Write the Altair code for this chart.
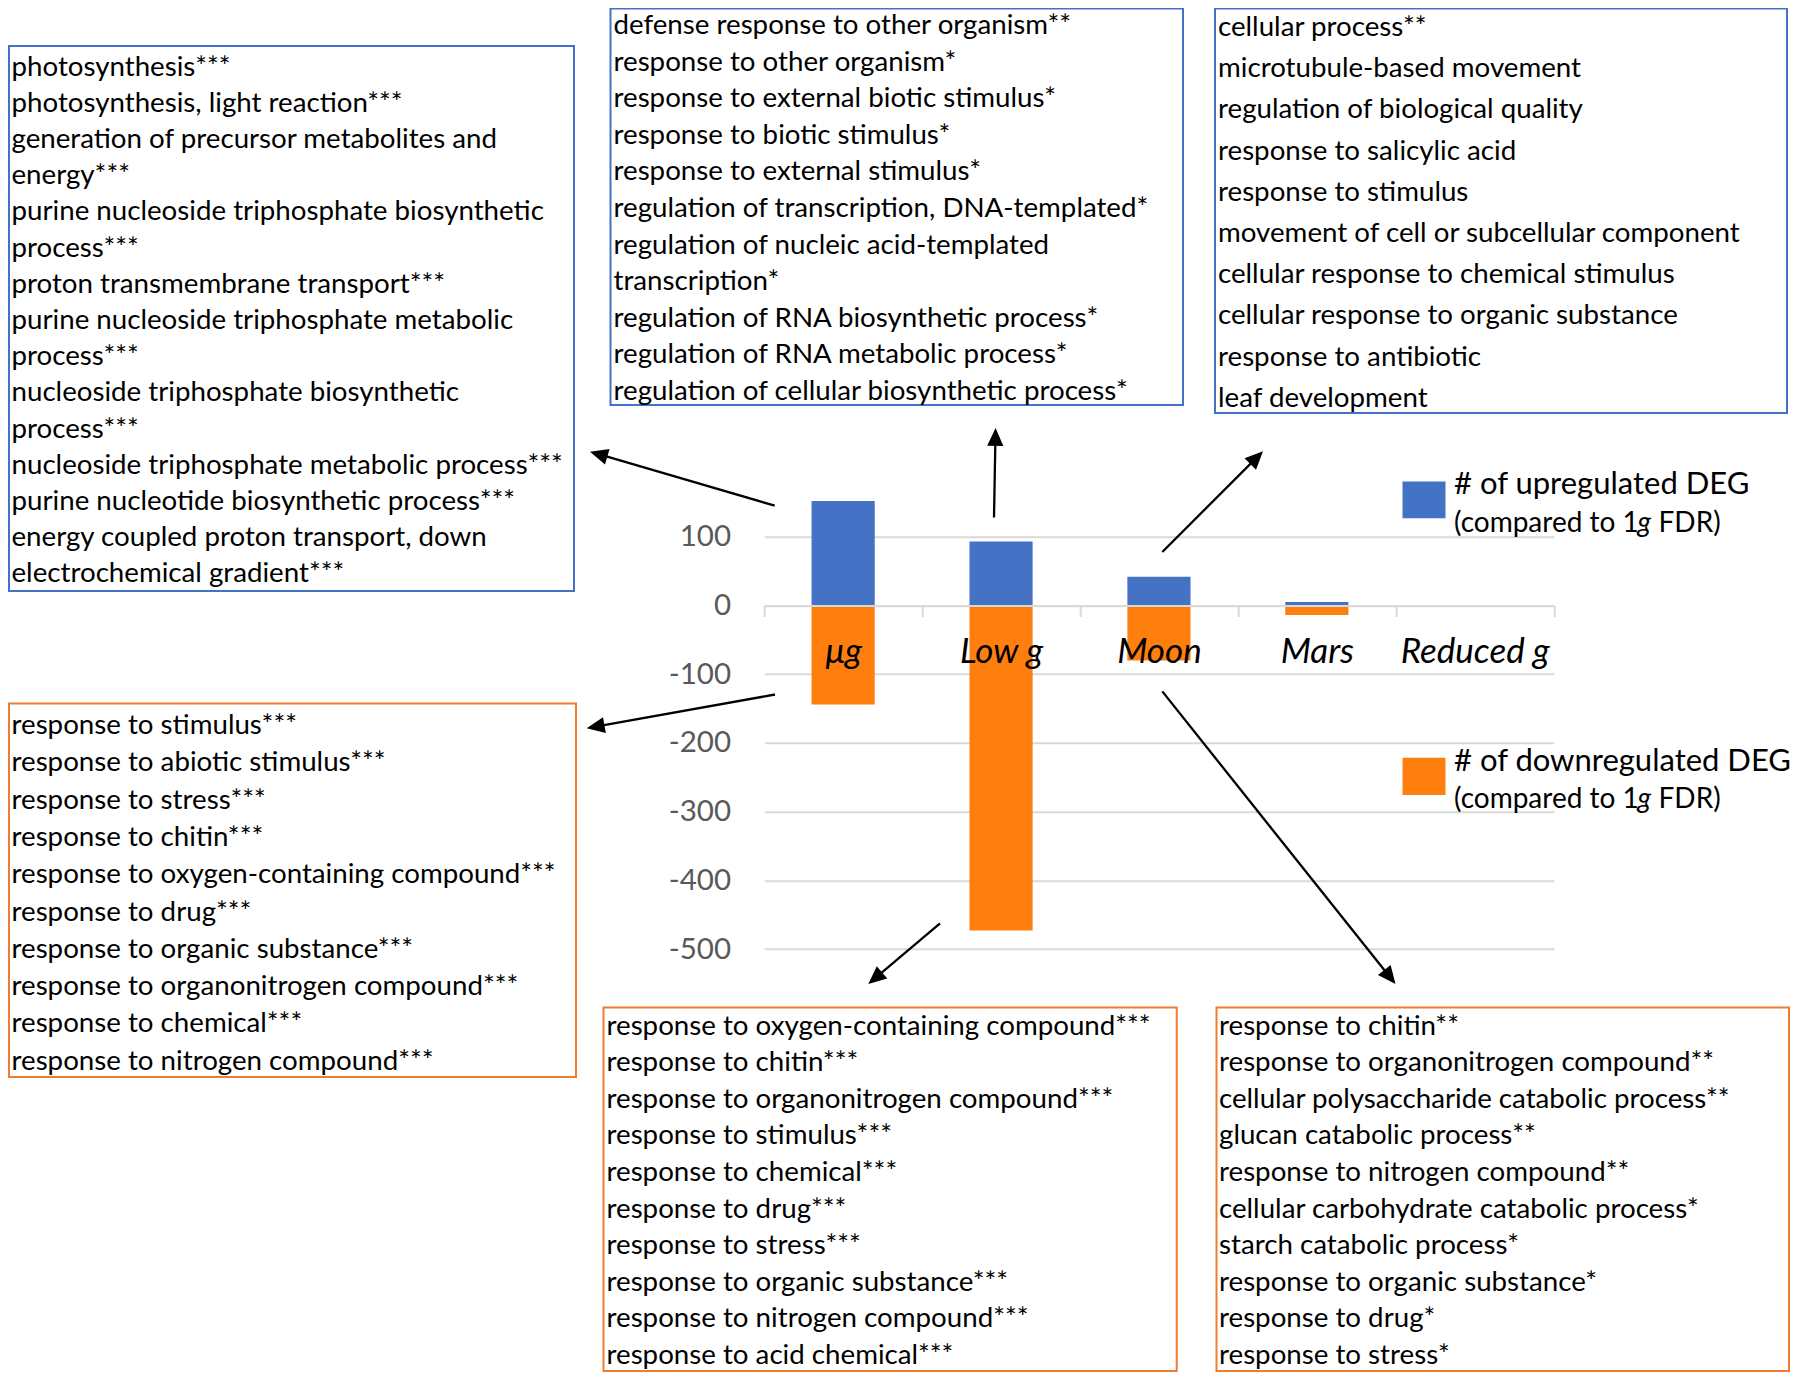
import math
import altair as alt
import pandas as pd

# ---------------- data ----------------
categories = ["μg", "Low g", "Moon", "Mars", "Reduced g"]
up_counts = [152, 93, 42, 5, 0]
down_counts = [-144, -473, -80, -14, 0]
y_ticks = [100, 0, -100, -200, -300, -400, -500]

up_label = "# of upregulated DEG"
down_label = "# of downregulated DEG"
sub_label_parts = ["(compared to 1", "g", "FDR)"]

terms_mg_up = [
    "photosynthesis***",
    "photosynthesis, light reaction***",
    "generation of precursor metabolites and",
    "energy***",
    "purine nucleoside triphosphate biosynthetic",
    "process***",
    "proton transmembrane transport***",
    "purine nucleoside triphosphate metabolic",
    "process***",
    "nucleoside triphosphate biosynthetic",
    "process***",
    "nucleoside triphosphate metabolic process***",
    "purine nucleotide biosynthetic process***",
    "energy coupled proton transport, down",
    "electrochemical gradient***",
]
terms_lowg_up = [
    "defense response to other organism**",
    "response to other organism*",
    "response to external biotic stimulus*",
    "response to biotic stimulus*",
    "response to external stimulus*",
    "regulation of transcription, DNA-templated*",
    "regulation of nucleic acid-templated",
    "transcription*",
    "regulation of RNA biosynthetic process*",
    "regulation of RNA metabolic process*",
    "regulation of cellular biosynthetic process*",
]
terms_moon_up = [
    "cellular process**",
    "microtubule-based movement",
    "regulation of biological quality",
    "response to salicylic acid",
    "response to stimulus",
    "movement of cell or subcellular component",
    "cellular response to chemical stimulus",
    "cellular response to organic substance",
    "response to antibiotic",
    "leaf development",
]
terms_mg_down = [
    "response to stimulus***",
    "response to abiotic stimulus***",
    "response to stress***",
    "response to chitin***",
    "response to oxygen-containing compound***",
    "response to drug***",
    "response to organic substance***",
    "response to organonitrogen compound***",
    "response to chemical***",
    "response to nitrogen compound***",
]
terms_lowg_down = [
    "response to oxygen-containing compound***",
    "response to chitin***",
    "response to organonitrogen compound***",
    "response to stimulus***",
    "response to chemical***",
    "response to drug***",
    "response to stress***",
    "response to organic substance***",
    "response to nitrogen compound***",
    "response to acid chemical***",
]
terms_moon_down = [
    "response to chitin**",
    "response to organonitrogen compound**",
    "cellular polysaccharide catabolic process**",
    "glucan catabolic process**",
    "response to nitrogen compound**",
    "cellular carbohydrate catabolic process*",
    "starch catabolic process*",
    "response to organic substance*",
    "response to drug*",
    "response to stress*",
]

# ---------------- layout (page pixel units) ----------------
PAGE_W, PAGE_H = 1802, 1381
CANVAS_W, CANVAS_H = 1786, 1365
PLOT_L, PLOT_T = 764.2, 536.8
PLOT_W, PLOT_H = 789.5, 412.2
ZERO_Y = 605.5

BLUE = "#4472C4"
ORANGE_BAR = "#FF7F0E"
ORANGE_BOX = "#ED7D31"
GRID = "#D9D9D9"
FONT = "Lato"
TERM_SIZE = 27.7
TEXT_DY = 2

# box: (x0, x1, y0, y1, colour, text_x, first_line_y, line_step, lines)
boxes = [
    (9, 574, 46, 591, BLUE, 11.5, 65.5, 36.2, terms_mg_up),
    (610.5, 1183, 8.5, 405, BLUE, 613.5, 24.0, 36.6, terms_lowg_up),
    (1215, 1787, 8.5, 413, BLUE, 1218, 26.0, 41.2, terms_moon_up),
    (9, 576, 703.5, 1077, ORANGE_BOX, 11.5, 724.0, 37.3, terms_mg_down),
    (603.5, 1176.7, 1007.5, 1371, ORANGE_BOX, 606.5, 1024.5, 36.6, terms_lowg_down),
    (1216.5, 1789, 1007.5, 1371, ORANGE_BOX, 1219, 1024.5, 36.6, terms_moon_down),
]

# arrows: (start_x, start_y, tip_x, tip_y)
arrows = [
    (774.7, 505.7, 590.0, 451.7),
    (775.0, 694.5, 586.7, 728.3),
    (994.0, 517.5, 995.6, 427.9),
    (940.0, 923.3, 868.3, 984.0),
    (1162.3, 552.0, 1263.0, 451.2),
    (1162.3, 691.4, 1395.5, 984.0),
]
HEAD_LEN = 18.0

legend_squares = [(1402.5, 1445.5, 481.5, 518.3, BLUE), (1402.5, 1445.5, 757.7, 795.0, ORANGE_BAR)]
legend_main = [(1454, 483.3, up_label), (1454, 760.0, down_label)]
legend_sub_y = [521.7, 798.3]
legend_sub_x = [1454, 1637.5, 1658.5]

# ---------------- tables ----------------
bar_rows = []
for c, u, d in zip(categories, up_counts, down_counts):
    bar_rows.append({"cat": c, "hi": u, "lo": 0, "series": "up"})
    bar_rows.append({"cat": c, "hi": 0, "lo": d, "series": "down"})
bar_df = pd.DataFrame(bar_rows)

box_df = pd.DataFrame([{"x0": b[0], "x1": b[1], "y0": b[2], "y1": b[3], "col": b[4]} for b in boxes])
line_rows = []
for b in boxes:
    for i, t in enumerate(b[8]):
        line_rows.append({"x": b[5], "y": b[6] + i * b[7], "t": t})
line_df = pd.DataFrame(line_rows)

arrow_rows, head_rows = [], []
for sx, sy, tx, ty in arrows:
    dx, dy = tx - sx, ty - sy
    n = math.hypot(dx, dy)
    ux, uy = dx / n, dy / n
    cx, cy = tx - ux * HEAD_LEN / 2, ty - uy * HEAD_LEN / 2
    arrow_rows.append({"x": sx, "y": sy, "x2": cx, "y2": cy})
    ang = math.degrees(math.atan2(dx, -dy)) % 360
    head_rows.append({"x": cx, "y": cy, "ang": ang})
arrow_df = pd.DataFrame(arrow_rows)
head_df = pd.DataFrame(head_rows)

sq_df = pd.DataFrame([{"x0": s[0], "x1": s[1], "y0": s[2], "y1": s[3], "col": s[4]} for s in legend_squares])
lmain_df = pd.DataFrame([{"x": m[0], "y": m[1], "t": m[2]} for m in legend_main])
lsub_plain = pd.DataFrame(
    [{"x": legend_sub_x[0], "y": y, "t": sub_label_parts[0]} for y in legend_sub_y]
    + [{"x": legend_sub_x[2], "y": y, "t": sub_label_parts[2]} for y in legend_sub_y]
)
lsub_ital = pd.DataFrame([{"x": legend_sub_x[1], "y": y, "t": sub_label_parts[1]} for y in legend_sub_y])

# ---------------- bar chart ----------------
xs = alt.Scale(domain=categories, paddingInner=0, paddingOuter=0)
ys = alt.Scale(domain=[-500, 100], nice=False, zero=False)

x_axis = alt.Axis(
    orient="bottom", offset=-(PLOT_T + PLOT_H - ZERO_Y), title=None, grid=False,
    domain=True, domainColor=GRID, domainWidth=2,
    ticks=True, tickColor=GRID, tickWidth=2, tickSize=11, tickBand="extent",
    labelFont=FONT, labelFontStyle="italic", labelFontSize=35, labelColor="black",
    labelPadding=35, labelBaseline="middle", labelAngle=0, zindex=1,
)
y_axis = alt.Axis(
    values=y_ticks, title=None, domain=False, ticks=False, tickSize=0,
    grid=True, gridColor=GRID, gridWidth=2,
    labelFont=FONT, labelFontSize=29.5, labelColor="#595959",
    labelPadding=33.6, labelExpr="toString(datum.value)",
)

bars = alt.Chart(bar_df).mark_bar(width={"band": 0.4}).encode(
    x=alt.X("cat:N", sort=categories, scale=xs, axis=x_axis),
    y=alt.Y("hi:Q", scale=ys, axis=y_axis),
    y2="lo:Q",
    color=alt.Color("series:N", scale=alt.Scale(domain=["up", "down"], range=[BLUE, ORANGE_BAR]), legend=None),
)

# ---------------- annotations (page pixel scale) ----------------
axs = alt.Scale(domain=[0, PAGE_W], range=[-PLOT_L, PAGE_W - PLOT_L], nice=False, zero=False)
ays = alt.Scale(domain=[0, PAGE_H], range=[-PLOT_T, PAGE_H - PLOT_T], nice=False, zero=False)


def X(f):
    return alt.X(f, scale=axs, axis=None)


def Y(f):
    return alt.Y(f, scale=ays, axis=None)


box_layer = alt.Chart(box_df).mark_rect(fill=None, strokeWidth=2).encode(
    x=X("x0:Q"), x2="x1:Q", y=Y("y0:Q"), y2="y1:Q",
    stroke=alt.Stroke("col:N", scale=None),
)
text_layer = alt.Chart(line_df).mark_text(
    align="left", baseline="middle", font=FONT, fontSize=TERM_SIZE, color="black", dy=TEXT_DY
).encode(x=X("x:Q"), y=Y("y:Q"), text="t:N")

arrow_layer = alt.Chart(arrow_df).mark_rule(color="black", strokeWidth=2.3).encode(
    x=X("x:Q"), y=Y("y:Q"), x2="x2:Q", y2="y2:Q"
)
head_layer = alt.Chart(head_df).mark_point(
    shape="M0,-1L0.9,1L-0.9,1Z", filled=True, color="black", opacity=1, size=HEAD_LEN ** 2, strokeWidth=0
).encode(x=X("x:Q"), y=Y("y:Q"), angle=alt.Angle("ang:Q", scale=None))

sq_layer = alt.Chart(sq_df).mark_rect().encode(
    x=X("x0:Q"), x2="x1:Q", y=Y("y0:Q"), y2="y1:Q", fill=alt.Fill("col:N", scale=None)
)
lmain_layer = alt.Chart(lmain_df).mark_text(
    align="left", baseline="middle", font=FONT, fontSize=31, color="black", dy=TEXT_DY
).encode(x=X("x:Q"), y=Y("y:Q"), text="t:N")
lsub_layer = alt.Chart(lsub_plain).mark_text(
    align="left", baseline="middle", font=FONT, fontSize=28, color="black", dy=TEXT_DY
).encode(x=X("x:Q"), y=Y("y:Q"), text="t:N")
lsubi_layer = alt.Chart(lsub_ital).mark_text(
    align="left", baseline="middle", font=FONT, fontSize=28, fontStyle="italic", color="black", dy=TEXT_DY
).encode(x=X("x:Q"), y=Y("y:Q"), text="t:N")

annot = alt.layer(box_layer, text_layer, arrow_layer, head_layer, sq_layer, lmain_layer, lsub_layer, lsubi_layer)

chart = alt.layer(bars, annot).resolve_scale(x="independent", y="independent").properties(
    width=PLOT_W, height=PLOT_H,
    autosize=alt.AutoSizeParams(type="none"),
    padding={"left": PLOT_L - 8, "top": PLOT_T - 8,
             "right": CANVAS_W - (PLOT_L - 8) - PLOT_W, "bottom": CANVAS_H - (PLOT_T - 8) - PLOT_H},
).configure_view(stroke=None)

chart.save("out.html", embed_options={"renderer": "svg", "actions": False})
